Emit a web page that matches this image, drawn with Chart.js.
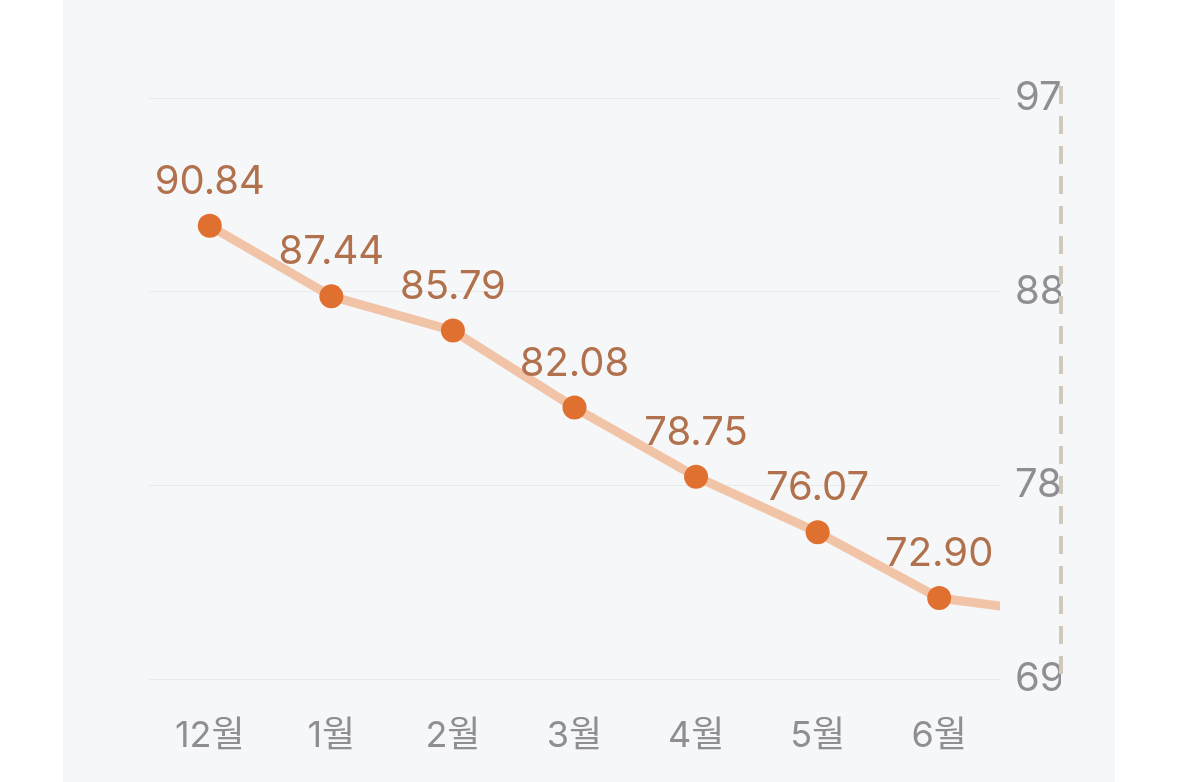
<!DOCTYPE html>
<html>
<head>
<meta charset="utf-8">
<script src="https://cdn.jsdelivr.net/npm/chart.js@4/dist/chart.umd.min.js"></script>
<style>
  html, body { margin: 0; padding: 0; background: #ffffff; }
  #panel { position: absolute; left: 63px; top: 0; width: 1052px; height: 782px; background: #f6f7f9; }
</style>
</head>
<body>
<div id="panel"><canvas id="trendChart" width="1052" height="782"></canvas></div>
<script>
// months shown on the axis; the last value continues past the right edge
const months = ['12월', '1월', '2월', '3월', '4월', '5월', '6월', '7월'];
const values = [90.84, 87.44, 85.79, 82.08, 78.75, 76.07, 72.90, 72.13];
const visibleCount = 7;
const yTicks = [69, 78.33, 87.67, 97];

const fontFamily = "Inter, 'Noto Sans CJK KR', sans-serif";

// value labels above each visible point
const valueLabels = {
    id: 'valueLabels',
    afterDatasetsDraw(chart) {
        const ctx = chart.ctx;
        const area = chart.chartArea;
        const meta = chart.getDatasetMeta(0);
        ctx.save();
        ctx.font = '40px ' + fontFamily;
        ctx.fillStyle = '#b0714c';
        ctx.textAlign = 'center';
        ctx.textBaseline = 'middle';
        meta.data.forEach((pt, i) => {
            if (pt.x > area.right) return;
            ctx.fillText(values[i].toFixed(2), pt.x, pt.y - 44);
        });
        ctx.restore();
    }
};

// dashed rule to the right of the value axis
const dashedRule = {
    id: 'dashedRule',
    afterDraw(chart) {
        const ctx = chart.ctx;
        const y = chart.scales.y;
        const x = y.right;
        ctx.save();
        ctx.strokeStyle = '#d0c9bb';
        ctx.lineWidth = 4;
        ctx.setLineDash([18, 12]);
        ctx.beginPath();
        ctx.moveTo(x, chart.chartArea.top - 12);
        ctx.lineTo(x, chart.chartArea.bottom + 1);
        ctx.stroke();
        ctx.restore();
    }
};

new Chart(document.getElementById('trendChart'), {
    type: 'line',
    data: {
        datasets: [{
            data: values.map((v, i) => ({ x: i, y: v })),
            borderColor: '#f2c4a7',
            borderWidth: 9,
            pointRadius: 12,
            pointBorderWidth: 0,
            pointBackgroundColor: '#e0702f',
            tension: 0
        }]
    },
    options: {
        responsive: false,
        animation: false,
        layout: { padding: { top: 98, left: 86, right: 54, bottom: 0 } },
        plugins: { legend: { display: false }, tooltip: { enabled: false } },
        scales: {
            x: {
                type: 'linear',
                min: -0.5,
                max: visibleCount - 0.5,
                afterBuildTicks: s => { s.ticks = months.slice(0, visibleCount).map((_, i) => ({ value: i })); },
                afterFit: s => { s.height = 103; },
                grid: { display: false, drawTicks: false },
                border: { display: false },
                ticks: {
                    padding: 36,
                    color: '#8e8e93',
                    font: { family: fontFamily, size: 36 },
                    callback: v => months[v]
                }
            },
            y: {
                position: 'right',
                min: 69,
                max: 97,
                afterBuildTicks: s => { s.ticks = yTicks.map(v => ({ value: v })); },
                afterFit: s => { s.width = 61; },
                grid: { color: '#e8e9ec', lineWidth: 1, drawTicks: false },
                border: { display: false },
                ticks: {
                    padding: 15,
                    color: '#8e8e93',
                    font: { family: fontFamily, size: 40 },
                    callback: v => Math.round(v)
                }
            }
        }
    },
    plugins: [valueLabels, dashedRule]
});
</script>
</body>
</html>
